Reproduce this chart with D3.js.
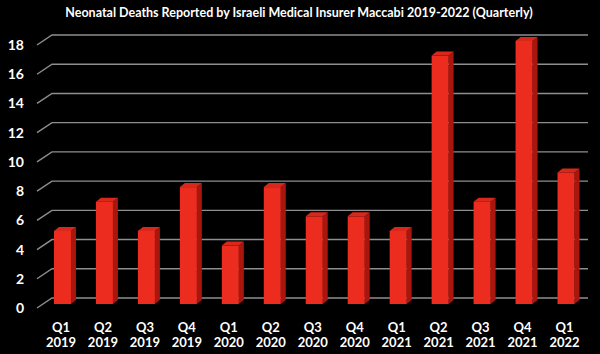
<!DOCTYPE html>
<html>
<head>
<meta charset="utf-8">
<script src="https://cdn.jsdelivr.net/npm/d3@7"></script>
<style>
  html, body { margin: 0; padding: 0; background: #000; }
  svg { display: block; font-family: Lato, "Open Sans", sans-serif; font-weight: bold; }
</style>
</head>
<body>
<div id="chart"></div>
<script>
// --- Data ---
const quarters = ["Q1", "Q2", "Q3", "Q4", "Q1", "Q2", "Q3", "Q4", "Q1", "Q2", "Q3", "Q4", "Q1"];
const years = ["2019", "2019", "2019", "2019", "2020", "2020", "2020", "2020", "2021", "2021", "2021", "2021", "2022"];
const deaths = [5, 7, 5, 8, 4, 8, 6, 6, 5, 17, 7, 18, 9];
const yTicks = [0, 2, 4, 6, 8, 10, 12, 14, 16, 18];
const title = "Neonatal Deaths Reported by Israeli Medical Insurer Maccabi 2019-2022 (Quarterly)";

(function () {
    "use strict";

    var W = 600, H = 354;
    // back wall of the 3d box, front floor offset
    var depthX = -15, depthY = 10;
    var barShift = 6;       // bar front face sits between back wall and front edge
    var sideW = 5, topH = 4;

    var svg = d3.select("#chart").append("svg")
        .attr("width", W).attr("height", H);

    svg.append("rect").attr("width", W).attr("height", H).attr("fill", "#000");

    var keys = deaths.map(function (d, i) { return i; });

    var x = d3.scaleBand().domain(keys).range([41.5, 587]).paddingInner(0).paddingOuter(0);
    var y = d3.scaleLinear().domain([0, 18]).range([298, 35]);

    // Title
    svg.append("text")
        .attr("x", 299).attr("y", 17)
        .attr("text-anchor", "middle")
        .attr("fill", "#fff")
        .attr("font-size", 12.5)
        .text(title);

    // Grid: diagonal from front-left edge to back wall, then across the back
    var grid = svg.append("g");
    yTicks.forEach(function (t) {
        var yb = y(t);
        grid.append("path")
            .attr("d", "M" + (52 + depthX) + "," + (yb + depthY) + " L52," + yb + " L588," + yb)
            .attr("fill", "none")
            .attr("stroke", "#8e8e8e")
            .attr("stroke-width", 1.4);
    });

    // Y axis labels
    svg.append("g").selectAll("text")
        .data(yTicks).join("text")
        .attr("x", 24)
        .attr("y", function (d) { return y(d) + depthY + 5; })
        .attr("text-anchor", "end")
        .attr("fill", "#fff")
        .attr("font-size", 14)
        .text(function (d) { return d; });

    // Bars (front, side, top faces)
    var bw = 17;
    var bars = svg.append("g").selectAll("g")
        .data(keys).join("g");

    bars.each(function (i) {
        var g = d3.select(this);
        var cx = x(i) + x.bandwidth() / 2;
        var x0 = cx - bw / 2, x1 = cx + bw / 2;
        var yt = y(deaths[i]) + barShift;
        var yb = y(0) + barShift;

        // side face
        g.append("path")
            .attr("d", "M" + x1 + "," + yt + " L" + (x1 + sideW) + "," + (yt - topH) +
                " L" + (x1 + sideW) + "," + (yb - topH) + " L" + x1 + "," + yb + "Z")
            .attr("fill", "#a8160e");
        // top face
        g.append("path")
            .attr("d", "M" + x0 + "," + yt + " L" + (x0 + sideW) + "," + (yt - topH) +
                " L" + (x1 + sideW) + "," + (yt - topH) + " L" + x1 + "," + yt + "Z")
            .attr("fill", "#d8281c");
        // front face
        g.append("rect")
            .attr("x", x0).attr("y", yt)
            .attr("width", bw).attr("height", yb - yt)
            .attr("fill", "#ec2c1f");
    });

    // X labels (two lines)
    var xl = svg.append("g").selectAll("text")
        .data(keys).join("text")
        .attr("text-anchor", "middle")
        .attr("fill", "#fff")
        .attr("font-size", 13);

    xl.append("tspan")
        .attr("x", function (i) { return x(i) + x.bandwidth() / 2 - 1.5; })
        .attr("y", 332)
        .text(function (i) { return quarters[i]; });
    xl.append("tspan")
        .attr("x", function (i) { return x(i) + x.bandwidth() / 2 - 1.5; })
        .attr("y", 347)
        .text(function (i) { return years[i]; });
})();
</script>
</body>
</html>
